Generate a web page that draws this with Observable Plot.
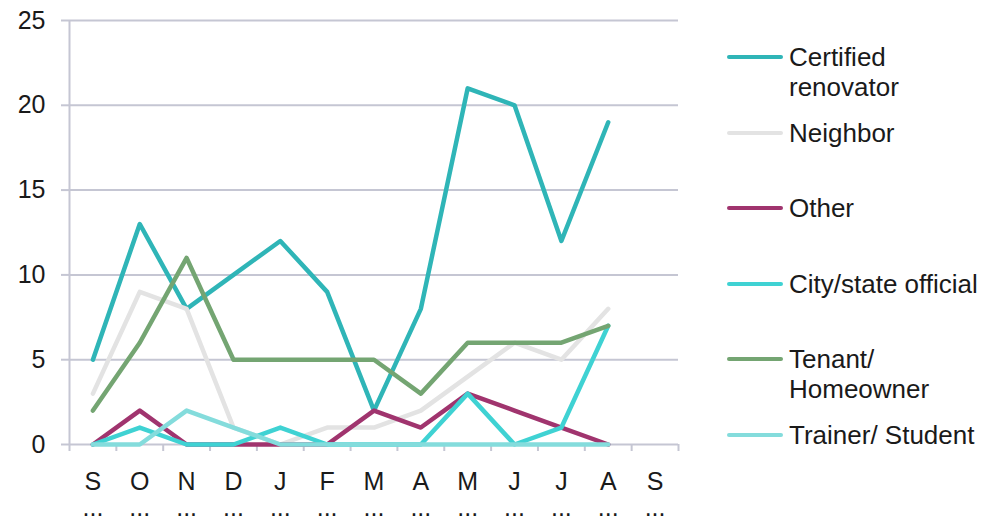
<!DOCTYPE html>
<html>
<head>
<meta charset="utf-8">
<script src="https://cdn.jsdelivr.net/npm/d3@7"></script>
<script src="https://cdn.jsdelivr.net/npm/@observablehq/plot@0.6"></script>
<style>
  html, body { margin: 0; padding: 0; background: #fff; }
  #wrap { position: relative; width: 1000px; height: 526px; font-family: "Liberation Sans", Arial, sans-serif; }
  #legend { position: absolute; left: 0; top: 0; }
  .item { position: absolute; left: 727px; }
  .swatch { position: absolute; left: 0; top: 13px; width: 56px; height: 4px; border-radius: 2px; }
  .label { position: absolute; left: 62px; top: 0; width: 205px; font-size: 26px; line-height: 30px; color: #1a1a1a; white-space: normal; }
</style>
</head>
<body>
<div id="wrap"><div id="legend"></div></div>
<script>
// Categories (months Sep .. Sep), shown truncated as first letter + "..."
const months = ["Sep-12","Oct-12","Nov-12","Dec-12","Jan-13","Feb-13","Mar-13","Apr-13","May-13","Jun-13","Jul-13","Aug-13","Sep-13"];
const xLabels = ["S","O","N","D","J","F","M","A","M","J","J","A","S"];
const yTicks = [0, 5, 10, 15, 20, 25];

const series = ["Certified renovator","Neighbor","Other","City/state official","Tenant/ Homeowner","Trainer/ Student"];
const colors = ["#2fb5b7","#e3e3e3","#a0346e","#3fd2d3","#74a572","#84dcdc"];

const certified = [5, 13, 8, 10, 12, 9, 2, 8, 21, 20, 12, 19];
const neighbor  = [3, 9, 8, 1, 0, 1, 1, 2, 4, 6, 5, 8];
const other     = [0, 2, 0, 0, 0, 0, 2, 1, 3, 2, 1, 0];
const city      = [0, 1, 0, 0, 1, 0, 0, 0, 3, 0, 1, 7];
const tenant    = [2, 6, 11, 5, 5, 5, 5, 3, 6, 6, 6, 7];
const trainer   = [0, 0, 2, 1, 0, 0, 0, 0, 0, 0, 0, 0];

const values = [certified, neighbor, other, city, tenant, trainer];
const rows = [];
series.forEach((s, k) => values[k].forEach((v, i) => rows.push({series: s, month: months[i], i, value: v})));

const gridColor = "#c5c6d3";
const centers = d3.range(months.length).map(i => i + 0.5);

const chart = Plot.plot({
  width: 1000,
  height: 526,
  marginLeft: 69,
  marginRight: 322,
  marginTop: 20,
  marginBottom: 82,
  style: {fontFamily: "'Liberation Sans', Arial, sans-serif", fontSize: "25px", color: "#1a1a1a", background: "#fff"},
  x: {domain: [0, months.length], axis: null},
  y: {domain: [0, 25], axis: null},
  color: {domain: series, range: colors},
  marks: [
    Plot.ruleY(yTicks, {stroke: gridColor, strokeWidth: 2}),
    Plot.ruleX([0], {stroke: gridColor, strokeWidth: 2}),
    Plot.axisY({ticks: yTicks, label: null, tickSize: 8, tickPadding: 16, stroke: gridColor, strokeWidth: 2, fill: "#1a1a1a", fontSize: 25}),
    Plot.axisX({ticks: d3.range(months.length + 1), label: null, tickSize: 7, tickFormat: () => "", stroke: gridColor, strokeWidth: 2}),
    Plot.axisX({ticks: centers, label: null, tickSize: 0, tickPadding: 28, tickFormat: v => xLabels[Math.floor(v)], fill: "#1a1a1a", fontSize: 25}),
    Plot.axisX({ticks: centers, label: null, tickSize: 0, tickPadding: 54, tickFormat: () => "...", fill: "#1a1a1a", fontSize: 25}),
    Plot.line(rows, {x: d => d.i + 0.5, y: "value", z: "series", stroke: "series", strokeWidth: 4.5, strokeLinejoin: "round", strokeLinecap: "round"})
  ]
});

const wrap = document.getElementById("wrap");
wrap.insertBefore(chart, wrap.firstChild);

const legend = document.getElementById("legend");
series.forEach((s, k) => {
  const item = document.createElement("div");
  item.className = "item";
  item.style.top = (42 + k * 75.6) + "px";
  const sw = document.createElement("div");
  sw.className = "swatch";
  sw.style.background = colors[k];
  const lab = document.createElement("div");
  lab.className = "label";
  lab.textContent = s;
  item.appendChild(sw);
  item.appendChild(lab);
  legend.appendChild(item);
});
</script>
</body>
</html>
